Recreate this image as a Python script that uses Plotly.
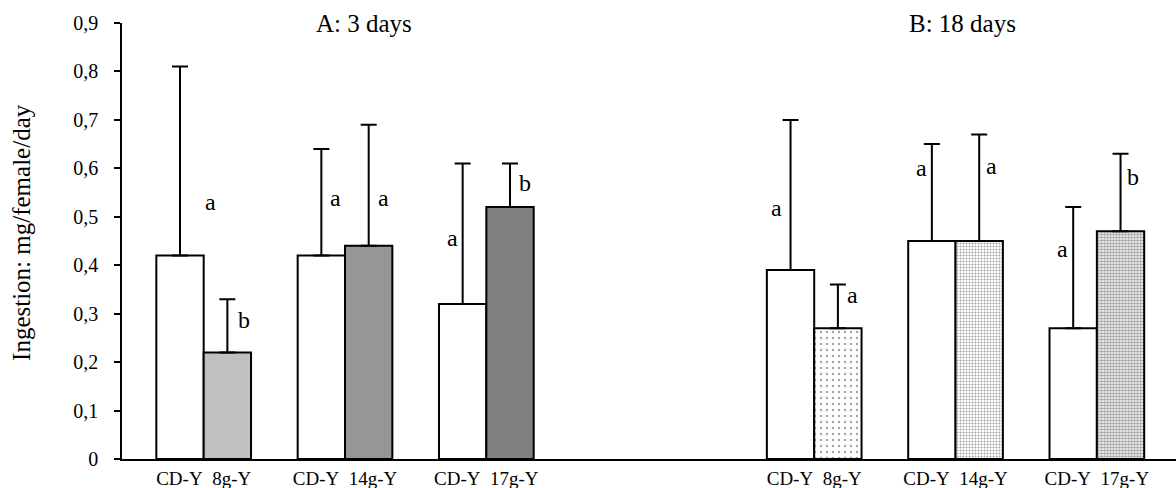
import plotly.graph_objects as go

# ---- data ----
groups = ["A-8g", "A-14g", "A-17g", "B-8g", "B-14g", "B-17g"]
group_pos = [0, 1, 2, 4.32, 5.32, 6.32]
ctrl_label = "CD-Y"
treat_labels = ["8g-Y", "14g-Y", "17g-Y", "8g-Y", "14g-Y", "17g-Y"]

ctrl_mean = [0.42, 0.42, 0.32, 0.39, 0.45, 0.27]
ctrl_upper = [0.81, 0.64, 0.61, 0.70, 0.65, 0.52]
treat_mean = [0.22, 0.44, 0.52, 0.27, 0.45, 0.47]
treat_upper = [0.33, 0.69, 0.61, 0.36, 0.67, 0.63]

ctrl_letters = ["a", "a", "a", "a", "a", "a"]
treat_letters = ["b", "a", "b", "a", "a", "b"]
ctrl_letter_y = [0.531, 0.539, 0.457, 0.519, 0.601, 0.434]
treat_letter_y = [0.287, 0.539, 0.570, 0.339, 0.604, 0.583]
ctrl_letter_shift = [30, 14, -10, -14, -10, -11]
treat_letter_shift = [17, 15, 15, 15, 12, 12]

panel_titles = ["A: 3 days", "B: 18 days"]
panel_title_x = [0.230, 0.797]

# ---- styling ----
FONT = "Liberation Serif, Times New Roman, serif"
treat_colors = ["#c0c0c0", "#969696", "#808080", "white", "white", "white"]
treat_shapes = ["", "", "", ".", ".", "."]
treat_psize = [6, 6, 6, 6, 3, 3]
treat_psolid = [0.2, 0.2, 0.2, 0.12, 0.35, 0.6]
treat_pbg = ["white", "white", "white", "white", "white", "#b4b4b4"]

bargap = 0.33
half = (1 - bargap) / 4

ctrl_err = [u - m for u, m in zip(ctrl_upper, ctrl_mean)]
treat_err = [u - m for u, m in zip(treat_upper, treat_mean)]

err_style = dict(type="data", symmetric=False, color="black", thickness=2, width=8)

fig = go.Figure()
fig.add_trace(go.Bar(
    x=group_pos, y=ctrl_mean, name=ctrl_label,
    marker=dict(color="white", line=dict(color="black", width=2)),
    error_y=dict(array=ctrl_err, arrayminus=[0] * len(ctrl_err), **err_style),
))
fig.add_trace(go.Bar(
    x=group_pos, y=treat_mean, name="treatment",
    marker=dict(color=treat_colors, line=dict(color="black", width=2),
                pattern=dict(shape=treat_shapes, fgcolor="black", bgcolor=treat_pbg,
                             size=treat_psize, solidity=treat_psolid)),
    error_y=dict(array=treat_err, arrayminus=[0] * len(treat_err), **err_style),
))

annotations = []
for i, p in enumerate(group_pos):
    annotations.append(dict(x=p - half, y=ctrl_letter_y[i], text=ctrl_letters[i],
                            xshift=ctrl_letter_shift[i], showarrow=False,
                            font=dict(family=FONT, size=24, color="black")))
    annotations.append(dict(x=p + half, y=treat_letter_y[i], text=treat_letters[i],
                            xshift=treat_letter_shift[i], showarrow=False,
                            font=dict(family=FONT, size=24, color="black")))
for t, xp in zip(panel_titles, panel_title_x):
    annotations.append(dict(x=xp, y=1.0, xref="paper", yref="paper", text=t,
                            showarrow=False, xanchor="center", yanchor="middle",
                            font=dict(family=FONT, size=25, color="black")))
annotations.append(dict(x=-0.0954, y=0.5195, xref="paper", yref="paper",
                        text="Ingestion: mg/female/day", textangle=-90,
                        showarrow=False, xanchor="center", yanchor="middle",
                        font=dict(family=FONT, size=25, color="black")))

tickvals = list(group_pos)
ticktext = [ctrl_label + "\u00a0\u00a0" + tl for tl in treat_labels]

fig.update_layout(
    width=1176, height=488,
    margin=dict(l=122, r=0, t=23, b=29),
    plot_bgcolor="white", paper_bgcolor="white",
    barmode="group", bargap=bargap, bargroupgap=0,
    showlegend=False,
    separators=", ",
    font=dict(family=FONT, color="black"),
    annotations=annotations,
    xaxis=dict(range=[-0.578, 6.88], tickvals=tickvals, ticktext=ticktext,
               tickangle=0, automargin=False,
               showline=True, linecolor="black", linewidth=1.5, ticks="",
               showgrid=False, zeroline=False, ticklabelstandoff=1,
               tickfont=dict(family=FONT, size=19, color="black")),
    yaxis=dict(range=[0, 0.9], dtick=0.1, tick0=0, showline=True, automargin=False,
               linecolor="black", linewidth=1.5, ticks="outside", ticklen=6,
               tickcolor="black", tickwidth=1.5, showgrid=False, zeroline=False,
               ticklabelstandoff=12,
               tickfont=dict(family=FONT, size=20, color="black")),
)

fig.write_html("out.html", config={"displayModeBar": False},
               post_script="document.body.style.margin='0';")
